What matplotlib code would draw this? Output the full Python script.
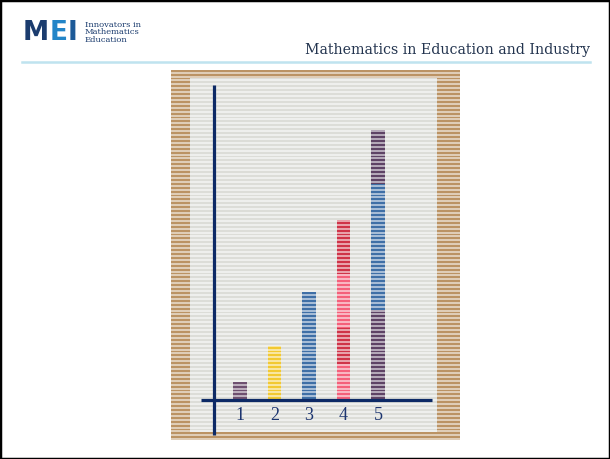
"""Photo of a cube-tower bar chart on the MEI slide."""
import matplotlib
matplotlib.use("Agg")
import matplotlib.pyplot as plt
from matplotlib.patches import Rectangle
from matplotlib.lines import Line2D
import numpy as np

towers = ["1", "2", "3", "4", "5"]
heights = [1, 3, 6, 10, 15]          # cubes in each tower (triangular numbers)
# colour blocks in each tower, bottom to top: (cubes, colour)
blocks = [
    [(1, "#6e5070")],
    [(3, "#f2c932")],
    [(6, "#3f6fa6")],
    [(2, "#f4607a"), (2, "#cf3448"), (3, "#f4607a"), (3, "#cf3448")],
    [(5, "#5e4365"), (7, "#3f6fa6"), (3, "#5e4365")],
]

W, H = 610, 459
fig = plt.figure(figsize=(W / 100, H / 100), dpi=100)
fig.patch.set_facecolor("white")

def fx(px):
    return px / W

def fy(py):
    return 1 - py / H

# slide frame
fig.patches.append(Rectangle((0, 0), 1, 1, transform=fig.transFigure, fill=False,
                             edgecolor="black", linewidth=2.5))

# header: MEI logo + strapline
fig.text(fx(23), fy(33), "M", fontsize=19, fontweight="heavy", color="#1b3c6e", va="center", ha="left")
fig.text(fx(50), fy(33), "E", fontsize=19, fontweight="heavy", color="#2285c8", va="center", ha="left")
fig.text(fx(68), fy(33), "I", fontsize=19, fontweight="heavy", color="#1d5a98", va="center", ha="left")
fig.text(fx(85), fy(21), "Innovators in\nMathematics\nEducation", fontsize=6, color="#1b3c6e",
         va="top", ha="left", linespacing=0.9, family="DejaVu Serif")
fig.text(fx(590), fy(50), "Mathematics in Education and Industry", fontsize=10.2, color="#23344f",
         va="center", ha="right", family="DejaVu Serif")
fig.lines.append(Line2D([fx(22), fx(590)], [fy(62), fy(62)], transform=fig.transFigure,
                        color="#bfe3ef", linewidth=1.8))

# photo of the chart
left, top, right, bottom = 171, 70, 460, 440
ax = fig.add_axes([fx(left), fy(bottom), fx(right - left), (bottom - top) / H])
ux, uy = 34.5, 18.0                  # pixels per category / per cube
x0, base = 240, 400                  # pixel centre of tower 1, baseline
xlo = 1 - (x0 - left) / ux
ax.set_xlim(xlo, xlo + (right - left) / ux)
ax.set_ylim(-(bottom - base) / uy, (base - top) / uy)
ax.set_facecolor("#bb9364")
for s in ax.spines.values():
    s.set_visible(False)
ax.set_xticks([])
ax.set_yticks([])

def dx(px):
    return xlo + (px - left) / ux

def dy(py):
    return (base - py) / uy

# paper inside the photo
ax.add_patch(Rectangle((dx(190), dy(432)), dx(437) - dx(190), dy(78) - dy(432),
                       facecolor="#dcddd8", edgecolor="none", zorder=1))

# towers
pos = np.arange(1, len(towers) + 1)
for p, segs in zip(pos, blocks):
    bottom_v = 0
    for n, c in segs:
        ax.bar(p, n, width=0.38, bottom=bottom_v, color=c, zorder=3)
        bottom_v += n

# scan-line stripes across the photo
ys = np.arange(0.002, 1, 3.9 / (bottom - top))
ax.hlines(ys, 0, 1, transform=ax.transAxes, color="white", alpha=0.7, linewidth=1.1, zorder=10)

# hand-drawn axes
ax.plot([dx(214), dx(214)], [dy(435), dy(85)], color="#0d2a66", linewidth=2.3, zorder=11,
        solid_capstyle="butt")
ax.plot([dx(201), dx(432)], [0, 0], color="#0d2a66", linewidth=2.3, zorder=11,
        solid_capstyle="butt")
for p, t in zip(pos, towers):
    ax.text(p, dy(415), t, ha="center", va="center", fontsize=13, color="#1c3570",
            family="Liberation Serif", zorder=11)

fig.savefig("out.png", dpi=100)
